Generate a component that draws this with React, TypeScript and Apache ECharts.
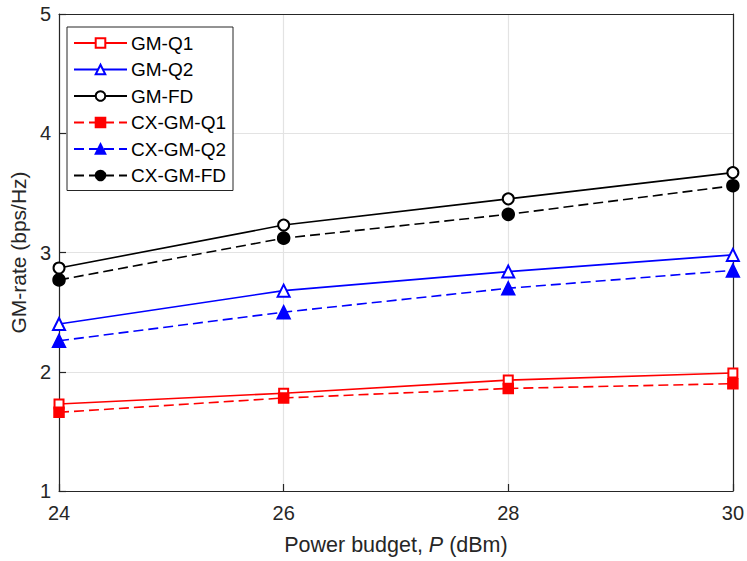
import React, { useEffect, useRef } from "react";
import * as echarts from "echarts";

const powerBudget = [24, 26, 28, 30];
const gmQ1 = [1.73, 1.82, 1.93, 1.99];
const gmQ2 = [2.4, 2.68, 2.84, 2.98];
const gmFD = [2.87, 3.23, 3.45, 3.67];
const cxGmQ1 = [1.66, 1.78, 1.86, 1.9];
const cxGmQ2 = [2.26, 2.5, 2.7, 2.85];
const cxGmFD = [2.77, 3.12, 3.32, 3.56];

const seriesNames = ["GM-Q1", "GM-Q2", "GM-FD", "CX-GM-Q1", "CX-GM-Q2", "CX-GM-FD"];

const FONT = "'Liberation Sans', Arial, Helvetica, sans-serif";
const TXT = "#262626";

function pairs(xs: number[], ys: number[]) {
  return xs.map((x, i) => [x, ys[i]]);
}

export default function App() {
  const ref = useRef<HTMLDivElement>(null);
  useEffect(() => {
    document.body.style.margin = "0";
    const chart = echarts.init(ref.current!, null, { renderer: "svg" });
    const mk = (
      name: string,
      ys: number[],
      color: string,
      symbol: string,
      size: number,
      dashed: boolean
    ) => ({
      name,
      type: "line",
      data: pairs(powerBudget, ys),
      symbol,
      symbolSize: size,
      showAllSymbol: true,
      lineStyle: { color, width: 1.6, type: dashed ? [10, 5] : "solid" },
      itemStyle: { color, borderColor: color, borderWidth: 1.5 },
      emphasis: { disabled: true },
      z: 3,
    });
    chart.setOption({
      animation: false,
      backgroundColor: "#fff",
      textStyle: { fontFamily: FONT },
      grid: { left: 53, right: 12, top: 14, bottom: 66 },
      legend: {
        orient: "vertical",
        left: 67,
        top: 27,
        data: seriesNames,
        backgroundColor: "#fff",
        borderColor: TXT,
        borderWidth: 1,
        padding: [6, 7, 5, 6],
        itemWidth: 53,
        itemHeight: 12,
        itemGap: 6.5,
        textStyle: { fontFamily: FONT, fontSize: 19, color: "#000", lineHeight: 20, padding: [0, 0, 0, -1] },
      },
      xAxis: [
        {
          type: "value",
          min: 24,
          max: 30,
          interval: 2,
          name: "Power budget, {i|P} (dBm)",
          nameLocation: "middle",
          nameGap: 43,
          nameTextStyle: {
            fontFamily: FONT,
            fontSize: 21.5,
            color: TXT,
            rich: { i: { fontFamily: FONT, fontSize: 21.5, fontStyle: "italic", color: TXT } },
          },
          axisLine: { show: true, lineStyle: { color: TXT, width: 1.2 } },
          axisTick: { show: true, inside: true, length: 7, lineStyle: { color: TXT, width: 1.2 } },
          axisLabel: { fontFamily: FONT, fontSize: 20, color: TXT, margin: 12 },
          splitLine: { show: true, lineStyle: { color: "#e3e3e3", width: 1.2 } },
        },
        {
          type: "value",
          position: "top",
          min: 24,
          max: 30,
          interval: 2,
          axisLine: { show: true, onZero: false, lineStyle: { color: TXT, width: 1.2 } },
          axisTick: { show: false },
          axisLabel: { show: false },
          splitLine: { show: false },
        },
      ],
      yAxis: [
        {
          type: "value",
          min: 1,
          max: 5,
          interval: 1,
          name: "GM-rate (bps/Hz)",
          nameLocation: "middle",
          nameGap: 27,
          nameTextStyle: { fontFamily: FONT, fontSize: 21, color: TXT },
          axisLine: { show: true, lineStyle: { color: TXT, width: 1.2 } },
          axisTick: { show: true, inside: true, length: 7, lineStyle: { color: TXT, width: 1.2 } },
          axisLabel: { fontFamily: FONT, fontSize: 20, color: TXT, margin: 8 },
          splitLine: { show: true, lineStyle: { color: "#e3e3e3", width: 1.2 } },
        },
        {
          type: "value",
          position: "right",
          min: 1,
          max: 5,
          interval: 1,
          axisLine: { show: true, onZero: false, lineStyle: { color: TXT, width: 1.2 } },
          axisTick: { show: false },
          axisLabel: { show: false },
          splitLine: { show: false },
        },
      ],
      series: [
        mk("GM-Q1", gmQ1, "#ff0000", "emptyRect", 9, false),
        mk("GM-Q2", gmQ2, "#0000ff", "emptyTriangle", 12, false),
        mk("GM-FD", gmFD, "#000000", "emptyCircle", 11, false),
        mk("CX-GM-Q1", cxGmQ1, "#ff0000", "rect", 10, true),
        mk("CX-GM-Q2", cxGmQ2, "#0000ff", "triangle", 13, true),
        mk("CX-GM-FD", cxGmFD, "#000000", "circle", 12, true),
      ],
    });
    return () => chart.dispose();
  }, []);
  return <div ref={ref} style={{ width: 747, height: 561 }} />;
}
